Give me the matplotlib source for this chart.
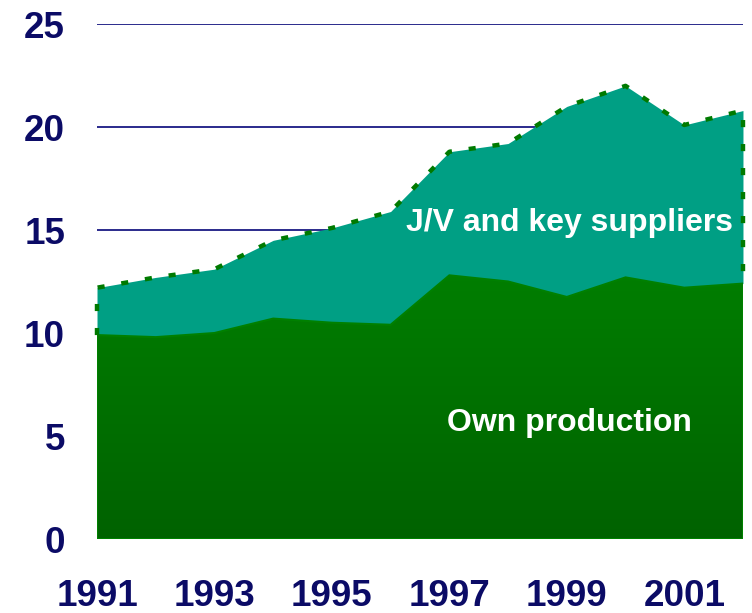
import numpy as np
import matplotlib
matplotlib.use("Agg")
import matplotlib.pyplot as plt
from matplotlib.patches import Polygon
from matplotlib.colors import LinearSegmentedColormap

years = [1991, 1992, 1993, 1994, 1995, 1996, 1997, 1998, 1999, 2000, 2001, 2002]
own_production = [9.9, 9.8, 10.0, 10.7, 10.5, 10.4, 12.8, 12.5, 11.75, 12.7, 12.2, 12.4]
total = [12.2, 12.7, 13.1, 14.5, 15.1, 15.9, 18.8, 19.2, 21.0, 22.0, 20.1, 20.8]
y_ticks = [0, 5, 10, 15, 20, 25]
x_ticks = [1991, 1993, 1995, 1997, 1999, 2001]

navy = "#0B0B66"
teal = "#009F84"
dash_green = "#007A00"

plt.rcParams['font.family'] = ['Liberation Sans', 'DejaVu Sans']

fig = plt.figure(figsize=(7.52, 6.13), dpi=100)
ax = fig.add_axes([0.129, 0.1207, 0.859, 0.8401])
ax.set_xlim(years[0], years[-1])
ax.set_ylim(0, 25)

# gridlines
for t in [15, 20, 25]:
    ax.axhline(t, color="#2A2A8C", lw=1.4, zorder=1)

x = np.array(years, dtype=float)
own = np.array(own_production)
tot = np.array(total)

# J/V area
ax.fill_between(x, own, tot, color=teal, lw=0, zorder=2)

# own production with vertical gradient
verts = [(x[0], 0)] + list(zip(x, own)) + [(x[-1], 0)]
poly = Polygon(verts, closed=True, facecolor='none', edgecolor='#008000', lw=1.5, zorder=4)
ax.add_patch(poly)
grad = np.linspace(0, 1, 256).reshape(-1, 1)
cmap = LinearSegmentedColormap.from_list("g", ["#006200", "#007E00"])
im = ax.imshow(grad, extent=[x[0], x[-1], 0, 13], origin='lower', cmap=cmap,
               aspect='auto', zorder=3, interpolation='bicubic')
im.set_clip_path(poly)

# dashed outline of total
outline_x = [x[0]] + list(x) + [x[-1]]
outline_y = [own[0]] + list(tot) + [own[-1]]
ax.plot(outline_x, outline_y, color=dash_green, lw=3.2, dashes=(1.6, 3.8),
        solid_capstyle='butt', dash_capstyle='butt', zorder=5, clip_on=False)

ax.text(1999.05, 15.35, "J/V and key suppliers", color="white", fontsize=23,
        fontweight="bold", ha="center", va="center", zorder=6)
ax.text(1999.05, 5.65, "Own production", color="white", fontsize=23,
        fontweight="bold", ha="center", va="center", zorder=6)

ax.set_yticks(y_ticks)
ax.set_xticks(x_ticks)
ax.set_yticklabels([str(t) for t in y_ticks])
ax.set_xticklabels([str(t) for t in x_ticks])
ax.tick_params(axis='both', length=0, labelsize=26.5, labelcolor=navy)
ax.tick_params(axis='y', pad=23)
ax.tick_params(axis='x', pad=28.5)
for lab in ax.get_xticklabels() + ax.get_yticklabels():
    lab.set_fontweight("bold")
for s in ax.spines.values():
    s.set_visible(False)

fig.savefig("out.png", dpi=100)
